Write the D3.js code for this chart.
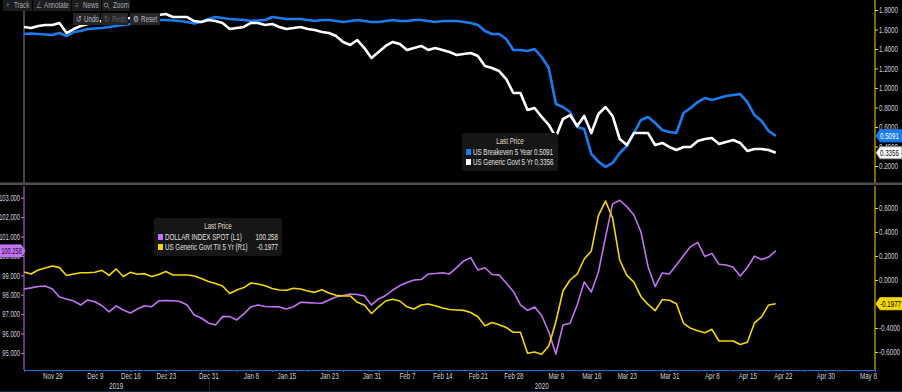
<!DOCTYPE html>
<html>
<head>
<meta charset="utf-8">
<script src="https://cdn.jsdelivr.net/npm/d3@7.9.0/dist/d3.min.js"></script>
<style>
html, body { margin: 0; padding: 0; background: #000; overflow: hidden; }
svg { display: block; font-family: "Liberation Sans", Arial, sans-serif; }
</style>
</head>
<body>
<svg id="chart" width="902" height="392"></svg>
<script>
// business days from Nov 25 2019, one value per weekday up to Apr 21 2020
const firstDay = "2019-11-25";
const lastAxisDay = "2020-05-11";

const breakeven5y = [1.554,1.559,1.554,1.549,1.544,1.564,1.533,1.574,1.585,1.605,
  1.610,1.615,1.626,1.636,1.646,1.656,1.667,1.677,1.687,1.697,
  1.697,1.692,1.687,1.677,1.662,1.677,1.708,1.728,1.718,1.708,
  1.703,1.697,1.687,1.692,1.697,1.728,1.718,1.708,1.708,1.708,
  1.697,1.687,1.697,1.697,1.687,1.677,1.687,1.697,1.687,1.677,
  1.677,1.687,1.697,1.687,1.687,1.697,1.697,1.687,1.677,1.687,
  1.687,1.687,1.677,1.667,1.646,1.585,1.554,1.554,1.503,1.390,
  1.390,1.379,1.400,1.318,1.205,0.836,0.805,0.754,0.600,0.579,
  0.323,0.245,0.190,0.231,0.333,0.405,0.538,0.672,0.703,0.641,
  0.569,0.549,0.538,0.744,0.795,0.856,0.897,0.877,0.897,0.918,
  0.928,0.938,0.856,0.723,0.662,0.559,0.5091];

const govt5y = [1.626,1.615,1.636,1.646,1.646,1.667,1.564,1.605,1.636,1.656,
  1.677,1.687,1.697,1.708,1.708,1.718,1.728,1.738,1.749,1.749,
  1.759,1.728,1.728,1.728,1.687,1.677,1.697,1.687,1.667,1.605,
  1.615,1.626,1.667,1.667,1.646,1.656,1.626,1.605,1.615,1.626,
  1.605,1.595,1.574,1.564,1.533,1.472,1.441,1.492,1.410,1.308,
  1.369,1.431,1.472,1.451,1.390,1.410,1.431,1.390,1.410,1.390,
  1.369,1.338,1.349,1.359,1.328,1.226,1.205,1.174,1.092,0.949,
  0.949,0.774,0.795,0.703,0.621,0.497,0.682,0.723,0.610,0.713,
  0.538,0.733,0.805,0.713,0.477,0.415,0.538,0.538,0.538,0.415,
  0.436,0.395,0.364,0.395,0.395,0.456,0.477,0.487,0.426,0.446,
  0.467,0.436,0.354,0.374,0.374,0.364,0.3356];

const dollarIndex = [98.29,98.35,98.42,98.45,98.29,97.88,97.78,97.68,97.47,97.73,
  97.64,97.43,97.11,97.42,97.21,97.06,97.26,97.43,97.38,97.68,
  97.70,97.69,97.65,97.47,96.95,96.80,96.54,96.44,96.87,96.87,
  96.70,97.01,97.37,97.47,97.39,97.38,97.37,97.26,97.38,97.61,
  97.59,97.57,97.56,97.73,97.88,97.96,98.04,98.01,97.93,97.47,
  97.78,97.96,98.24,98.47,98.63,98.76,98.78,99.07,99.09,99.13,
  99.07,99.40,99.74,99.91,99.27,99.39,99.04,99.02,98.60,98.17,
  97.47,97.19,97.37,96.93,96.08,94.94,96.44,96.53,97.47,98.65,
  98.14,99.17,100.97,102.68,102.87,102.54,102.11,101.23,99.44,98.42,
  99.12,99.07,99.53,100.02,100.48,100.70,99.97,100.13,99.57,99.53,
  99.41,98.96,99.40,99.99,99.81,99.94,100.258];

const tips5y = [0.067,0.050,0.083,0.100,0.117,0.103,0.038,0.050,0.061,0.061,
  0.064,0.081,0.038,0.092,0.029,0.064,0.048,0.053,0.029,0.046,
  0.071,0.042,0.042,0.042,0.033,0.013,-0.013,-0.029,-0.050,-0.113,
  -0.083,-0.063,-0.025,-0.033,-0.048,-0.071,-0.083,-0.086,-0.069,-0.075,
  -0.092,-0.103,-0.081,-0.108,-0.128,-0.133,-0.133,-0.186,-0.208,-0.279,
  -0.223,-0.175,-0.161,-0.175,-0.223,-0.242,-0.208,-0.200,-0.214,-0.233,
  -0.246,-0.250,-0.253,-0.271,-0.306,-0.381,-0.354,-0.373,-0.396,-0.436,
  -0.436,-0.611,-0.600,-0.619,-0.550,-0.348,-0.092,0.000,0.048,0.175,
  0.242,0.536,0.658,0.517,0.167,0.038,-0.017,-0.139,-0.203,-0.256,
  -0.163,-0.169,-0.198,-0.361,-0.403,-0.423,-0.439,-0.411,-0.508,-0.508,
  -0.508,-0.538,-0.519,-0.358,-0.308,-0.208,-0.1977];

const tickDates = ["2019-11-29","2019-12-09","2019-12-16","2019-12-23","2019-12-31","2020-01-08",
  "2020-01-15","2020-01-23","2020-01-31","2020-02-07","2020-02-14","2020-02-21","2020-02-28",
  "2020-03-09","2020-03-16","2020-03-23","2020-03-31","2020-04-08","2020-04-15","2020-04-22",
  "2020-04-30","2020-05-08"];
const tickLabels = ["Nov 29","Dec 9","Dec 16","Dec 23","Dec 31","Jan 8","Jan 15","Jan 23","Jan 31",
  "Feb 7","Feb 14","Feb 21","Feb 28","Mar 9","Mar 16","Mar 23","Mar 31","Apr 8","Apr 15",
  "Apr 22","Apr 30","May 8"];
const yearLabels = ["2019","2020"];
const yearLabelDates = ["2019-12-12","2020-03-05"];

const topTicks = [0.2,0.4,0.6,0.8,1.0,1.2,1.4,1.6,1.8];
const leftTicks = [95,96,97,98,99,100,101,102,103];
const rightTicks = [-0.6,-0.4,0.0,0.2,0.4,0.6];

const topNames = ["US Breakeven 5 Year","US Generic Govt 5 Yr"];
const bottomNames = ["DOLLAR INDEX SPOT  (L1)","US Generic Govt TII 5 Yr  (R1)"];

const BLUE = "#1b7cf2", WHITE = "#ffffff", PURPLE = "#c273f5", YELLOW = "#f5d800";
const TXT = "#cdd0da";
const FS = 8.5;

// weekday calendar used as the x domain
const parse = d3.timeParse("%Y-%m-%d");
const fmtKey = d3.timeFormat("%Y-%m-%d");
const days = d3.timeDay.range(parse(firstDay), d3.timeDay.offset(parse(lastAxisDay), 1))
  .filter(d => d.getDay() % 6 !== 0);
const dayIndex = new Map(days.map((d, i) => [fmtKey(d), i]));

const svg = d3.select("#chart");
const W = 902;

const x = d3.scaleLinear().domain([0, days.length - 1]).range([24, 875]);
const yTop = d3.scaleLinear().domain([0, 1.8]).range([185.5, 10]);
const yLeft = d3.scaleLinear().domain([95, 103]).range([352.9, 197.7]);
const yRight = d3.scaleLinear().domain([-0.6, 0.6]).range([352, 208]);

const loc = d3.formatLocale({decimal: ".", thousands: ",", grouping: [3], currency: ["", ""], minus: "-"});
const f4 = loc.format(".4f"), f3 = loc.format(".3f");

// ---------- top panel ----------
svg.append("line").attr("x1", 24).attr("x2", 24).attr("y1", 0).attr("y2", 183)
  .attr("stroke", "#8a8a8a").attr("stroke-width", 1);

const topLine = d3.line().x((d, i) => x(i)).y(d => yTop(d));
svg.append("path").datum(breakeven5y).attr("d", topLine)
  .attr("fill", "none").attr("stroke", BLUE).attr("stroke-width", 2.6).attr("stroke-linejoin", "round");
svg.append("path").datum(govt5y).attr("d", topLine)
  .attr("fill", "none").attr("stroke", WHITE).attr("stroke-width", 2.6).attr("stroke-linejoin", "round");

const topAxis = svg.append("g").attr("transform", "translate(875,0)")
  .call(d3.axisRight(yTop).tickValues(topTicks).tickFormat(f4).tickSize(3).tickPadding(1));
topAxis.select(".domain").attr("stroke", YELLOW).attr("d", "M0,0V183");
topAxis.selectAll(".tick line").attr("stroke", YELLOW);
topAxis.selectAll("text").attr("fill", TXT).attr("font-size", FS);

// value tags on right / left
function tag(g, xPos, yPos, w, fill, txtColor, text, left) {
  const h = 12;
  const path = left
    ? `M${xPos},${yPos - h / 2}H${xPos + w - 3}L${xPos + w + 1},${yPos}L${xPos + w - 3},${yPos + h / 2}H${xPos}Z`
    : `M${xPos + 4},${yPos - h / 2}H${xPos + w}V${yPos + h / 2}H${xPos + 4}L${xPos},${yPos}Z`;
  g.append("path").attr("d", path).attr("fill", fill).attr("stroke", fill === WHITE ? "#999" : fill);
  g.append("text").attr("x", left ? xPos + w - 2 : xPos + 4).attr("y", yPos + 3)
    .attr("text-anchor", left ? "end" : "start")
    .attr("class", left ? "narrow" : null)
    .attr("font-size", FS).attr("fill", txtColor).text(text);
}
tag(svg, 876, yTop(breakeven5y[breakeven5y.length - 1]), 26, BLUE, "#fff", f4(breakeven5y[breakeven5y.length - 1]));
tag(svg, 876, yTop(govt5y[govt5y.length - 1]), 26, WHITE, "#000", f4(govt5y[govt5y.length - 1]));

// top legend
const lgT = svg.append("g").attr("transform", "translate(462,133)");
lgT.append("rect").attr("width", 96).attr("height", 38).attr("rx", 3).attr("fill", "#161616");
lgT.append("text").attr("x", 48).attr("y", 11).attr("text-anchor", "middle")
  .attr("font-size", FS).attr("fill", "#e2dccd").text("Last Price");
[[topNames[0], breakeven5y, BLUE], [topNames[1], govt5y, WHITE]].forEach(([name, s, c], k) => {
  const yy = 19 + k * 10;
  lgT.append("rect").attr("x", 4).attr("y", yy - 3).attr("width", 5).attr("height", 6).attr("fill", c);
  lgT.append("text").attr("x", 11).attr("y", yy + 3).attr("font-size", FS).attr("fill", "#e2e2e2")
    .text(name + "  " + f4(s[s.length - 1]));
});

// panel separator
svg.append("rect").attr("x", 0).attr("y", 182.5).attr("width", W).attr("height", 2.5).attr("fill", "#4e4e4e");

// ---------- bottom panel ----------
const dxyLine = d3.line().x((d, i) => x(i)).y(d => yLeft(d));
const tipsLine = d3.line().x((d, i) => x(i)).y(d => yRight(d));
svg.append("path").datum(dollarIndex).attr("d", dxyLine)
  .attr("fill", "none").attr("stroke", PURPLE).attr("stroke-width", 1.6).attr("stroke-linejoin", "round");
svg.append("path").datum(tips5y).attr("d", tipsLine)
  .attr("fill", "none").attr("stroke", YELLOW).attr("stroke-width", 1.6).attr("stroke-linejoin", "round");

const leftAxis = svg.append("g").attr("transform", "translate(24,0)")
  .call(d3.axisLeft(yLeft).tickValues(leftTicks).tickFormat(f3).tickSize(3).tickPadding(1));
leftAxis.select(".domain").attr("stroke", PURPLE).attr("d", "M0,186V370");
leftAxis.selectAll(".tick line").attr("stroke", PURPLE);
leftAxis.selectAll("text").attr("fill", TXT).attr("font-size", FS).attr("class", "narrow");

const rightAxis = svg.append("g").attr("transform", "translate(875,0)")
  .call(d3.axisRight(yRight).tickValues(rightTicks).tickFormat(f4).tickSize(3).tickPadding(1));
rightAxis.select(".domain").attr("stroke", YELLOW).attr("d", "M0,186V370");
rightAxis.selectAll(".tick line").attr("stroke", YELLOW);
rightAxis.selectAll("text").attr("fill", TXT).attr("font-size", FS);

tag(svg, 876, yRight(tips5y[tips5y.length - 1]), 26, YELLOW, "#000", f4(tips5y[tips5y.length - 1]));
tag(svg, -1, yLeft(dollarIndex[dollarIndex.length - 1]), 25, PURPLE, "#1a0a26", f3(dollarIndex[dollarIndex.length - 1]), true);

// bottom legend
const lgB = svg.append("g").attr("transform", "translate(154,218)");
lgB.append("rect").attr("width", 128).attr("height", 38).attr("rx", 3).attr("fill", "#161616");
lgB.append("text").attr("x", 64).attr("y", 11).attr("text-anchor", "middle")
  .attr("font-size", FS).attr("fill", "#e2dccd").text("Last Price");
[[bottomNames[0], dollarIndex, PURPLE, f3], [bottomNames[1], tips5y, YELLOW, f4]].forEach(([name, s, c, f], k) => {
  const yy = 19 + k * 10;
  lgB.append("rect").attr("x", 4).attr("y", yy - 3).attr("width", 5).attr("height", 6).attr("fill", c);
  lgB.append("text").attr("x", 11).attr("y", yy + 3).attr("font-size", FS).attr("fill", "#e2e2e2").text(name);
  lgB.append("text").attr("x", 124).attr("y", yy + 3).attr("text-anchor", "end")
    .attr("font-size", FS).attr("fill", "#e2e2e2").text(f(s[s.length - 1]));
});

// ---------- x axis ----------
const tickIdx = tickDates.map(d => dayIndex.get(d));
const mondays = days.map((d, i) => [d, i]).filter(([d]) => d.getDay() === 1).map(([, i]) => i);
const xAxisG = svg.append("g").attr("transform", "translate(0,370)");
xAxisG.call(d3.axisBottom(x).tickValues(mondays).tickFormat("").tickSize(2).tickSizeOuter(0));
xAxisG.select(".domain").attr("stroke", "#1d6fd6").attr("stroke-width", 1.2);
xAxisG.selectAll(".tick line").attr("stroke", "#1d6fd6");
const xLab = svg.append("g").attr("transform", "translate(0,370)")
  .call(d3.axisBottom(x).tickValues(tickIdx).tickFormat((d, i) => tickLabels[i]).tickSize(2).tickPadding(1));
xLab.select(".domain").remove();
xLab.selectAll(".tick line").attr("stroke", "#1d6fd6");
xLab.selectAll("text").attr("fill", TXT).attr("font-size", FS);

svg.selectAll(".yearLab").data(yearLabels).join("text").attr("class", "yearLab")
  .attr("x", (d, i) => x(dayIndex.get(yearLabelDates[i])))
  .attr("y", 389).attr("text-anchor", "middle").attr("font-size", FS).attr("fill", TXT).text(d => d);
svg.append("line").attr("x1", x(dayIndex.get("2019-12-31")) + 1).attr("x2", x(dayIndex.get("2019-12-31")) + 1)
  .attr("y1", 380).attr("y2", 392).attr("stroke", "#1b2c48");
svg.append("line").attr("x1", 0).attr("x2", W).attr("y1", 391.5).attr("y2", 391.5).attr("stroke", "#142642");

// ---------- toolbar ----------
const tb = svg.append("g").attr("font-size", FS);
const row1 = [["+", "Track", 3, 32], ["∠", "Annotate", 33, 71], ["≡", "News", 72, 101], ["", "Zoom", 102, 130]];
const row2 = [["↺", "Undo", 73, 100, "#b8bcc4"], ["↻", "Redo", 101, 128, "#5d6068"], ["⚙", "Reset", 130, 160, "#b8bcc4"]];
row1.forEach(([ic, lab, x0, x1]) => {
  tb.append("rect").attr("x", x0).attr("y", 0).attr("width", x1 - x0).attr("height", 11).attr("fill", "#1d1d1f");
  if (ic) tb.append("text").attr("x", x0 + 3).attr("y", 8.5).attr("fill", "#7c8088").text(ic);
  tb.append("text").attr("x", x0 + 11).attr("y", 8.5).attr("fill", "#a9adb6").text(lab);
});
tb.append("circle").attr("cx", 106).attr("cy", 5).attr("r", 2).attr("fill", "none").attr("stroke", "#7c8088");
tb.append("line").attr("x1", 107.5).attr("y1", 6.5).attr("x2", 109.5).attr("y2", 8.5).attr("stroke", "#7c8088");
row2.forEach(([ic, lab, x0, x1, c]) => {
  tb.append("rect").attr("x", x0).attr("y", 13).attr("width", x1 - x0).attr("height", 12).attr("fill", "#262628");
  tb.append("text").attr("x", x0 + 3).attr("y", 22).attr("fill", c).text(ic);
  tb.append("text").attr("x", x0 + 11).attr("y", 22).attr("fill", c).text(lab);
});

// condensed look: squeeze every text horizontally around its anchor x
svg.selectAll("text").each(function () {
  const k = this.getAttribute("class") === "narrow" ? 0.68 : 0.73;
  const x0 = +this.getAttribute("x") || 0;
  this.setAttribute("transform", `matrix(${k},0,0,1,${(x0 * (1 - k)).toFixed(2)},0)`);
});
</script>
</body>
</html>
